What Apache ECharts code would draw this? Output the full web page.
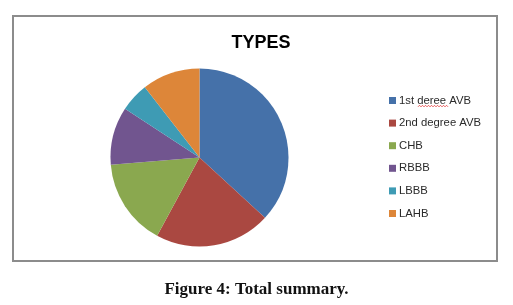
<!DOCTYPE html>
<html>
<head>
<meta charset="utf-8">
<script src="https://cdn.jsdelivr.net/npm/echarts@6/dist/echarts.min.js"></script>
<style>
  html, body { margin: 0; padding: 0; background: #fff; }
  #chart { width: 513px; height: 305px; }
</style>
</head>
<body>
<div id="chart"></div>
<script>
// pie data (counts)
var categories = ['1st deree AVB', '2nd degree AVB', 'CHB', 'RBBB', 'LBBB', 'LAHB'];
var counts = [7, 4, 3, 2, 1, 2];
var colors = ['#4571a9', '#aa4841', '#8aa84f', '#71558f', '#3e9bb4', '#dd8639'];

var chart = echarts.init(document.getElementById('chart'));

var pieData = categories.map(function (name, i) {
  return { name: name, value: counts[i], itemStyle: { color: colors[i] } };
});

// wavy spell-check underline under "deree"
var squiggle = [];
for (var x = 418, k = 0; x <= 448; x += 1.5, k++) {
  squiggle.push([x, k % 2 ? 105.3 : 106.8]);
}

var option = {
  backgroundColor: '#fff',
  animation: false,
  title: {
    text: 'TYPES',
    left: 256,
    top: 29,
    textAlign: 'center',
    textStyle: { fontFamily: 'Liberation Sans', fontWeight: 'bold', fontSize: 18, color: '#000' }
  },
  legend: {
    orient: 'vertical',
    left: 384,
    top: 89,
    itemWidth: 7,
    itemHeight: 7,
    itemGap: 9.6,
    icon: 'rect',
    textStyle: { fontFamily: 'Liberation Sans', fontSize: 11.3, lineHeight: 13, color: '#2a2a2a', padding: [0, 0, 0, -2] },
    data: categories
  },
  series: [{
    type: 'pie',
    center: [199.5, 157.5],
    radius: 89,
    startAngle: 90,
    clockwise: true,
    label: { show: false },
    labelLine: { show: false },
    itemStyle: { borderWidth: 0 },
    emphasis: { disabled: true },
    data: pieData
  }],
  graphic: [
    {
      type: 'rect',
      shape: { x: 13, y: 16, width: 484, height: 245 },
      style: { fill: null, stroke: '#8c8c8c', lineWidth: 2 },
      silent: true
    },
    {
      type: 'polyline',
      shape: { points: squiggle },
      style: { fill: null, stroke: '#e03030', lineWidth: 0.8 },
      silent: true
    },
    {
      type: 'text',
      left: 'center',
      top: 281,
      style: { text: 'Figure 4: Total summary.', fontFamily: 'Liberation Serif', fontWeight: 'bold', fontSize: 17, fill: '#111' }
    }
  ]
};

chart.setOption(option);
</script>
</body>
</html>
